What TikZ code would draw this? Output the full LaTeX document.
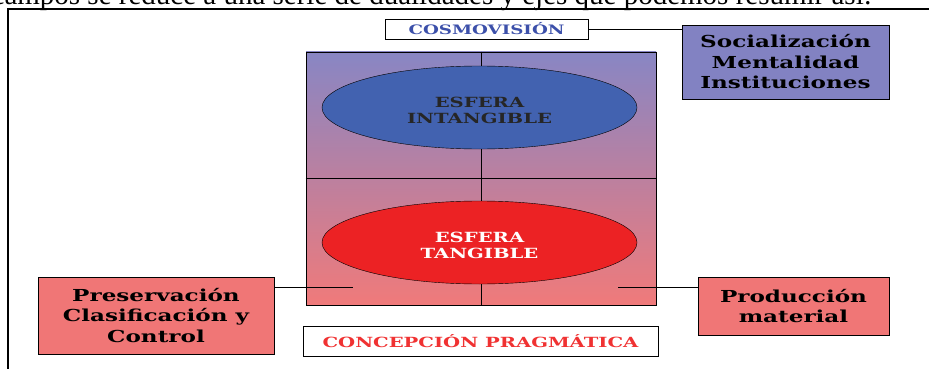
\documentclass[tikz,border=0pt]{standalone}
\usepackage{fontspec}
\setmainfont{Liberation Serif}
\newfontfamily\rotulo[FakeStretch=1.4]{DejaVu Serif}
\usetikzlibrary{shapes.geometric}
%
\definecolor{lavanda}{RGB}{130,130,194}
\definecolor{salmon}{RGB}{240,118,118}
\definecolor{azulesfera}{RGB}{66,98,176}
\definecolor{rojoesfera}{RGB}{236,34,36}
\definecolor{azultexto}{RGB}{60,80,170}
\definecolor{rojotexto}{RGB}{240,50,50}
\definecolor{degarriba}{RGB}{136,134,196}
\definecolor{degmedio}{RGB}{200,122,178}
\definecolor{degabajo}{RGB}{240,122,122}
%
% texto de las esferas, algo mas abajo del centro
\newcommand\textoesfera[1]{\raisebox{-5pt}[\height][\depth]{\begin{tabular}{@{}c@{}}#1\end{tabular}}}
%
\tikzset{
  caja/.style={draw, thick, align=center, inner sep=0pt,
    font=\rotulo\bfseries\fontsize{16.5}{20.5}\selectfont},
  titulo/.style={draw, thick, fill=white, inner sep=0pt,
    font=\rotulo\bfseries\fontsize{13}{15}\selectfont},
  esfera/.style={ellipse, draw, inner sep=0pt,
    minimum width=315pt, minimum height=83pt,
    font=\rotulo\bfseries\fontsize{14}{16}\selectfont},
}
%
\begin{document}
\begin{tikzpicture}[x=1pt,y=-1pt]%{{{
\useasboundingbox (0,0) rectangle (929,369);
\clip (0,0) rectangle (929,369);
%
% Renglon del texto (cortado)
\node [anchor=base east, inner sep=0pt, font=\fontsize{29}{32}\selectfont] (renglon)
      at (872,5) {campos se reduce a una serie de dualidades y ejes que podemos resumir así:};
%
% Marco
\draw [line width=2pt] (8,369) -- (8,9) -- (929,9);
%
% Cuadro con degradado
\node [draw, thick, inner sep=0pt, minimum width=350pt, minimum height=253pt,
       top color=degarriba, middle color=degmedio, bottom color=degabajo] (cuadro)
      at (481,178.5) {};
%
% Ejes
\draw (cuadro.north) -- (cuadro.south);
\draw (cuadro.west)  -- (cuadro.east);
%
% Esferas
\node [esfera, fill=azulesfera, text=black!85] (intangible)
      at (479.5,107.5) {\textoesfera{ESFERA\\INTANGIBLE}};
\node [esfera, fill=rojoesfera, text=white] (tangible)
      at (479.5,242.5) {\textoesfera{ESFERA\\TANGIBLE}};
%
% Titulos
\node [titulo, text=azultexto, minimum width=203pt, minimum height=20pt] (cosmo)
      at (486.5,29) {COSMOVISIÓN};
\node [titulo, text=rojotexto, minimum width=355pt, minimum height=30pt,
       font=\rotulo\bfseries\fontsize{14}{16}\selectfont] (pragma)
      at (480.5,341) {CONCEPCIÓN PRAGMÁTICA};
%
% Cajas laterales
\node [caja, fill=lavanda, minimum width=207pt, minimum height=74pt] (socio)
      at (785.5,62) {Socialización\\Mentalidad\\Instituciones};
\node [caja, fill=salmon, minimum width=236pt, minimum height=77pt] (preserva)
      at (156,315.5) {Preservación\\Clasificación y\\Control};
\node [caja, fill=salmon, minimum width=191pt, minimum height=58pt] (produce)
      at (793.5,306) {Producción\\material};
%
% Enlaces
\coordinate (ganchoizq) at (353,287);
\coordinate (ganchoder) at (618,287);
\draw (cosmo.east) -- (cosmo.east -| socio.west);
\draw (preserva.east |- ganchoizq) -- (ganchoizq);
\draw (ganchoder) -- (produce.west |- ganchoder);
%
\end{tikzpicture}%}}}
\end{document}
